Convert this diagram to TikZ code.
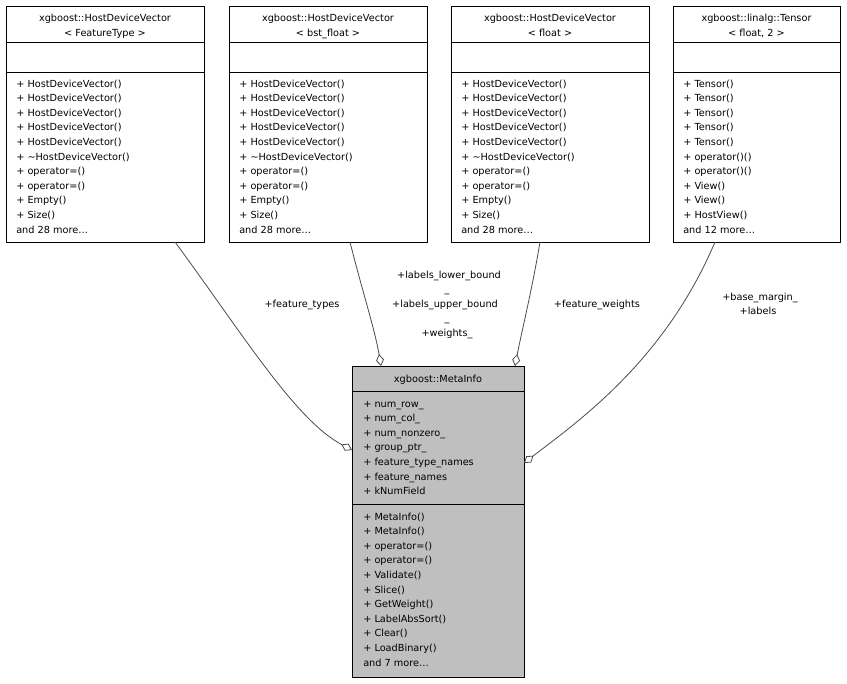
\documentclass[tikz,border=0pt]{standalone}
\usepackage{fontspec}
\setmainfont{DejaVu Sans}
\usetikzlibrary{arrows.meta}
\begin{document}
\begin{tikzpicture}[x=0.75pt,y=-0.75pt,
  txt/.style={font=\fontsize{7.3}{8}\selectfont, inner sep=0pt, anchor=base west},
  ctxt/.style={font=\fontsize{7.3}{8}\selectfont, inner sep=0pt, anchor=base},
  box/.style={draw=black, line width=0.6pt},
  agg/.style={draw=black!70, line width=0.6pt, -{Diamond[open,length=9pt,width=6pt]}}]
\useasboundingbox[fill=white] (0,0) rectangle (847,683);
\newcommand{\hdvbox}[5]{%
  \draw[box] (#1,6) rectangle (#2,242);
  \draw[box] (#1,42) -- (#2,42);
  \draw[box] (#1,72) -- (#2,72);
  \node[ctxt] (#5t1) at ({(#1+#2)/2},21) {#3};
  \node[ctxt] (#5t2) at ({(#1+#2)/2},36) {#4};
}
\hdvbox{6}{204}{xgboost::HostDeviceVector}{< FeatureType >}{a}
\hdvbox{229}{427}{xgboost::HostDeviceVector}{< bst\_float >}{b}
\hdvbox{451}{649}{xgboost::HostDeviceVector}{< float >}{c}
\hdvbox{673}{840}{xgboost::linalg::Tensor}{< float, 2 >}{d}
\foreach \x/\n in {16/a,239/b,461/c}{
  \foreach \s [count=\i from 0] in {{+ HostDeviceVector()},{+ HostDeviceVector()},{+ HostDeviceVector()},{+ HostDeviceVector()},{+ HostDeviceVector()},{+ \textasciitilde HostDeviceVector()},{+ operator=()},{+ operator=()},{+ Empty()},{+ Size()},{and 28 more\ldots}}
    \node[txt] (\n m\i) at (\x,{87+\i*14.6}) {\s};
}
\foreach \s [count=\i from 0] in {{+ Tensor()},{+ Tensor()},{+ Tensor()},{+ Tensor()},{+ Tensor()},{+ operator()()},{+ operator()()},{+ View()},{+ View()},{+ HostView()},{and 12 more\ldots}}
  \node[txt] (dm\i) at (683,{87+\i*14.6}) {\s};
\draw[box, fill=black!25] (352,366) rectangle (524,677);
\draw[box] (352,391) -- (524,391);
\draw[box] (352,504) -- (524,504);
\node[ctxt] (mt) at (438,382) {xgboost::MetaInfo};
\foreach \s [count=\i from 0] in {{+ num\_row\_},{+ num\_col\_},{+ num\_nonzero\_},{+ group\_ptr\_},{+ feature\_type\_names},{+ feature\_names},{+ kNumField}}
  \node[txt] (ma\i) at (363,{407+\i*14.6}) {\s};
\foreach \s [count=\i from 0] in {{+ MetaInfo()},{+ MetaInfo()},{+ operator=()},{+ operator=()},{+ Validate()},{+ Slice()},{+ GetWeight()},{+ LabelAbsSort()},{+ Clear()},{+ LoadBinary()},{and 7 more\ldots}}
  \node[txt] (mm\i) at (363,{520+\i*14.6}) {\s};
\coordinate (s1) at (175,242); \coordinate (e1) at (352,450);
\coordinate (s2) at (350,242); \coordinate (e2) at (381,366);
\coordinate (s3) at (540,242); \coordinate (e3) at (515,366);
\coordinate (s4) at (715,242); \coordinate (e4) at (524,463);
\draw[agg] (s1) .. controls (240,330) and (295,420) .. (e1);
\draw[agg] (s2) .. controls (362,290) and (375,330) .. (e2);
\draw[agg] (s3) .. controls (532,290) and (522,330) .. (e3);
\draw[agg] (s4) .. controls (665,360) and (580,420) .. (e4);
\node[ctxt] (l1) at (302,307) {+feature\_types};
\node[ctxt] (l2a) at (449,278) {+labels\_lower\_bound};
\node[ctxt] (l2b) at (447,292) {\_};
\node[ctxt] (l2c) at (445,307) {+labels\_upper\_bound};
\node[ctxt] (l2d) at (447,321) {\_};
\node[ctxt] (l2e) at (447,336) {+weights\_};
\node[ctxt] (l3) at (597,307) {+feature\_weights};
\node[ctxt] (l4a) at (760,300) {+base\_margin\_};
\node[ctxt] (l4b) at (758,314) {+labels};
\end{tikzpicture}
\end{document}
